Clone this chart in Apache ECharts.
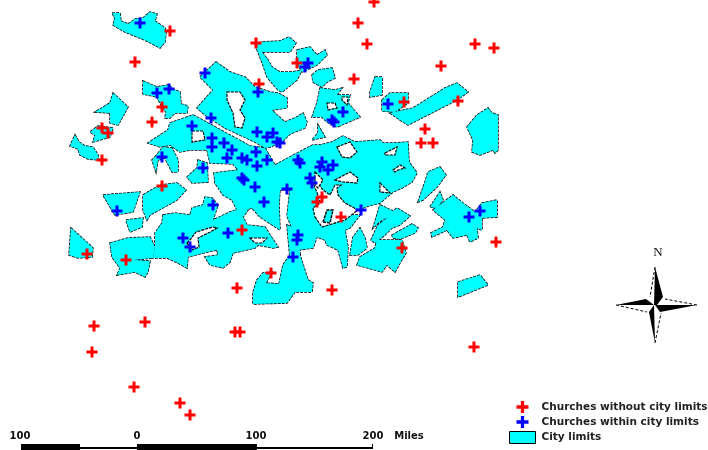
<!DOCTYPE html>
<html><head><meta charset="utf-8">
<style>html,body{margin:0;padding:0;background:#fff}#c{width:708px;height:450px;filter:blur(0.45px)}</style>
<script src="https://cdn.jsdelivr.net/npm/echarts@6/dist/echarts.min.js"></script>
</head><body><div id="c"></div>
<script>
const legendNames=['Churches without city limits','Churches within city limits','City limits'];
const churchesWithout=[[374,2],[358,23],[367,44],[475,44],[494,48],[441,66],[354,79],[404,102],[458,101],[425,129],[421,143],[433,143],[297,63],[170,31],[135,62],[256,43],[259,84],[162,107],[152,122],[102,128],[108,133],[102,160],[162,186],[87,254],[126,260],[242,230],[271,273],[237,288],[322,197],[317,202],[341,217],[402,248],[496,242],[332,290],[94,326],[145,322],[92,352],[235,332],[240,332],[474,347],[134,387],[180,403],[190,415]];
const churchesWithin=[[140,23],[205,73],[157,93],[169,89],[258,92],[211,118],[192,126],[308,63],[305,67],[388,104],[343,112],[332,120],[334,122],[212,138],[212,147],[224,143],[232,150],[227,158],[242,158],[247,160],[257,132],[256,152],[267,137],[273,133],[277,142],[280,143],[267,160],[257,166],[203,168],[242,178],[244,180],[255,187],[287,189],[264,202],[213,205],[298,160],[300,163],[322,162],[320,167],[333,165],[328,170],[310,178],[312,183],[162,157],[117,211],[183,238],[190,247],[228,233],[361,210],[298,235],[297,240],[293,257],[469,217],[480,211]];
const cityParts=[
[[112,13],[120,13],[121,21],[128,24],[135,19],[143,18],[150,12],[157,14],[155,21],[165,28],[166,33],[165,42],[160,48],[147,41],[125,32],[113,25],[115,18]],
[[143,81],[157,87],[168,85],[175,90],[180,92],[181,104],[188,106],[187,113],[175,113],[170,118],[165,118],[166,112],[162,107],[157,97],[143,94]],
[[113,93],[128,107],[122,118],[118,125],[110,123],[110,113],[95,112],[110,103]],
[[98,126],[113,128],[110,137],[93,142],[95,135],[90,132]],
[[75,135],[79,142],[85,146],[93,147],[98,155],[99,160],[88,159],[80,155],[78,149],[70,146]],
[[255,45],[262,42],[280,41],[289,37],[296,43],[290,52],[262,52],[268,60],[272,67],[280,72],[292,72],[302,70],[297,80],[282,92],[278,90],[267,77],[263,65],[258,52]],
[[216,62],[230,72],[245,77],[255,87],[270,92],[278,93],[287,98],[287,108],[272,110],[277,115],[285,122],[297,117],[303,113],[307,122],[305,128],[290,134],[282,142],[270,147],[265,148],[255,142],[225,128],[205,115],[197,108],[213,90],[200,77]],
[[193,115],[217,128],[250,146],[265,148],[275,165],[303,150],[313,145],[320,145],[332,142],[343,136],[355,142],[380,140],[383,143],[395,143],[408,142],[409,162],[417,173],[412,182],[402,188],[393,192],[380,203],[365,207],[358,210],[345,215],[360,215],[350,228],[345,230],[348,247],[347,267],[343,268],[338,250],[327,245],[325,240],[317,237],[313,248],[298,250],[293,230],[287,216],[290,190],[280,190],[279,205],[280,230],[260,217],[252,208],[238,212],[232,200],[223,195],[215,183],[214,173],[238,170],[233,164],[210,163],[207,150],[190,150],[180,152],[170,145],[160,147],[148,143],[157,137],[168,130],[170,123]],
[[155,157],[163,147],[172,148],[178,160],[178,172],[172,172],[165,158],[158,160],[156,172],[152,160]],
[[198,160],[207,163],[208,182],[192,183],[187,177],[197,168]],
[[163,215],[175,213],[190,215],[192,208],[203,205],[205,197],[212,198],[218,205],[213,220],[230,212],[245,207],[248,210],[243,217],[247,225],[265,227],[270,235],[278,247],[273,248],[258,245],[255,248],[233,253],[230,262],[223,268],[210,265],[205,257],[218,255],[217,250],[207,252],[188,257],[187,268],[178,263],[167,258],[153,258],[155,247],[155,233],[162,223]],
[[290,255],[300,255],[308,280],[313,283],[312,292],[295,292],[287,303],[253,304],[253,292],[257,280],[263,273],[272,272],[266,283],[279,284],[283,265]],
[[287,225],[300,230],[300,255],[290,258]],
[[380,205],[393,211],[397,208],[410,216],[400,225],[392,228],[385,235],[375,243],[371,240],[378,225],[388,217],[379,222],[373,228]],
[[392,235],[405,228],[412,224],[418,228],[415,233],[405,237],[400,239],[393,238]],
[[357,265],[360,257],[375,248],[377,240],[402,240],[406,253],[400,263],[395,272],[387,265],[382,272],[368,268]],
[[350,255],[353,237],[360,228],[365,238],[367,248],[358,255]],
[[418,202],[425,182],[428,172],[440,167],[446,175],[437,187],[423,200]],
[[430,207],[440,192],[443,200],[437,208]],
[[433,210],[453,195],[463,203],[475,212],[482,203],[497,200],[497,217],[482,218],[482,230],[477,228],[478,238],[470,242],[467,235],[453,238],[447,230],[432,237],[431,233],[443,227],[445,220]],
[[458,282],[480,275],[488,285],[458,297]],
[[467,127],[477,115],[488,108],[492,113],[498,115],[498,150],[495,153],[493,150],[480,155],[472,152],[473,140]],
[[297,50],[310,47],[317,55],[325,50],[327,55],[317,65],[302,72],[297,63]],
[[312,75],[318,70],[332,68],[335,78],[327,82],[322,87],[313,82]],
[[320,88],[335,90],[342,88],[337,95],[350,95],[348,103],[360,117],[337,127],[327,122],[322,117],[312,117],[317,103]],
[[375,77],[382,77],[382,95],[370,97],[370,92]],
[[382,100],[390,93],[408,93],[408,103],[395,112],[382,111]],
[[390,113],[413,108],[445,88],[457,83],[468,92],[457,100],[408,125],[400,120]],
[[318,125],[325,137],[312,140],[318,133]],
[[103,195],[140,192],[133,212],[115,215]],
[[143,195],[160,185],[177,183],[186,190],[177,200],[150,215],[147,220],[143,210]],
[[126,220],[143,218],[142,227],[130,232]],
[[71,228],[93,248],[92,257],[78,258],[69,255]],
[[110,243],[128,238],[150,237],[155,247],[153,258],[133,260],[150,261],[148,272],[145,277],[135,272],[117,275],[120,268],[112,257]]
];
const cityHoles=[
[[227,92],[240,92],[245,100],[240,110],[245,118],[242,128],[235,127],[233,113],[227,100]],
[[192,131],[203,131],[205,140],[192,142]],
[[187,243],[192,250],[199,247],[198,238],[210,232],[217,228],[213,227],[196,232],[190,240]],
[[250,238],[267,238],[262,243],[255,243]],
[[315,217],[322,227],[345,220],[358,210],[345,203],[338,195],[337,188],[341,185],[335,185],[330,195],[323,190],[317,182],[313,183],[318,195],[320,203],[313,208]],
[[337,147],[350,142],[357,152],[350,158],[342,157]],
[[335,180],[350,172],[358,178],[357,183],[343,182]],
[[380,183],[390,193],[380,192]],
[[385,153],[397,147],[395,155],[385,155]],
[[393,170],[400,165],[405,168],[398,170],[395,172]],
[[327,103],[335,103],[337,108],[328,110]],
[[342,97],[348,97],[347,105],[342,100]],
[[315,172],[323,180],[318,188],[315,185]]
];
const cityIslands=[[[323,222],[327,210],[333,210],[330,223]]];
const scaleBars=[[21,80,444,450],[80,137,447,449],[137,257,444,450],[257,373,447,449],[372,373,444,449]];
const scaleLabels=[['100',20],['0',137],['100',256],['200',373],['Miles',409]];
const scaleLabelY=436;
const compassBlack=[[[655,267],[663,297],[657,305],[654,305]],[[697,305],[660,312],[655,305]],[[655,343],[649,312],[654,305]],[[616,305],[646,299],[654,305]]];
const compassDashed=[[[655,267],[650,297]],[[697,305],[665,299]],[[655,343],[661,313]],[[616,305],[647,312]]];
const compassLetter=['N',658,253];

const plus='path://M4,0h3v4h4v3h-4v4h-3v-4h-4v-3h4z';
const polySets=[cityParts,cityParts,cityHoles,cityIslands];
function polyRender(style){return function(p,api){
  const pts=polySets[api.value(0)][p.dataIndexInside];
  return {type:'polygon',shape:{points:pts.map(q=>api.coord(q))},style:style};
}}
function dataFor(k,a){return a.map(()=>[k]);}
const outline={fill:'#00ffff',stroke:'#000',lineWidth:1.5,lineDash:[3,1]};
const chart=echarts.init(document.getElementById('c'),null,{renderer:'canvas'});
chart.setOption({
 animation:false,backgroundColor:'#fff',
 grid:{left:0,right:0,top:0,bottom:0},
 xAxis:{type:'value',min:0,max:708,show:false},
 yAxis:{type:'value',min:0,max:450,inverse:true,show:false},
 legend:{orient:'vertical',left:509,top:401,height:70,itemWidth:26,itemHeight:12,itemGap:3,selectedMode:false,padding:0,
  textStyle:{fontFamily:'DejaVu Sans',fontSize:10.5,fontWeight:'bold',color:'#222',padding:[0,0,0,1]},
  data:[{name:legendNames[0],icon:plus,itemStyle:{color:'#ff0000',opacity:1}},{name:legendNames[1],icon:plus,itemStyle:{color:'#0000ff',opacity:1}},{name:legendNames[2],icon:'rect',itemStyle:{color:'#00ffff',borderColor:'#000',borderWidth:1}}]},
 series:[
  {type:'custom',name:legendNames[2],coordinateSystem:'cartesian2d',silent:true,clip:false,itemStyle:{color:'#00ffff'},encode:{x:-1,y:-1},data:dataFor(0,cityParts),renderItem:polyRender(outline),z:1},
  {type:'custom',name:legendNames[2],coordinateSystem:'cartesian2d',silent:true,clip:false,itemStyle:{color:'#00ffff'},encode:{x:-1,y:-1},data:dataFor(1,cityParts),renderItem:polyRender({fill:'#00ffff'}),z:2},
  {type:'custom',name:'holes',coordinateSystem:'cartesian2d',silent:true,clip:false,encode:{x:-1,y:-1},data:dataFor(2,cityHoles),renderItem:polyRender({fill:'#fff',stroke:'#000',lineWidth:1.2,lineDash:[3,1]}),z:3},
  {type:'custom',name:'islands',coordinateSystem:'cartesian2d',silent:true,clip:false,encode:{x:-1,y:-1},data:dataFor(3,cityIslands),renderItem:polyRender(outline),z:4},
  {type:'scatter',name:legendNames[0],data:churchesWithout,symbol:plus,symbolSize:11,itemStyle:{color:'#ff0000',opacity:1},clip:false,silent:true,z:5},
  {type:'scatter',name:legendNames[1],data:churchesWithin,symbol:plus,symbolSize:11,itemStyle:{color:'#0000ff',opacity:1},clip:false,silent:true,z:6},
  {type:'custom',name:'scale',coordinateSystem:'cartesian2d',silent:true,clip:false,encode:{x:-1,y:-1},data:scaleBars,z:7,renderItem:function(p,api){
    const a=api.coord([api.value(0),api.value(2)]),b=api.coord([api.value(1),api.value(3)]);
    return {type:'rect',shape:{x:a[0],y:a[1],width:b[0]-a[0],height:b[1]-a[1]},style:{fill:'#000'}};
  }},
  {type:'custom',name:'scaleText',coordinateSystem:'cartesian2d',silent:true,clip:false,encode:{x:-1,y:-1},data:scaleLabels.map(l=>[l[1]]),z:7,renderItem:function(p,api){
    const a=api.coord([api.value(0),scaleLabelY]);
    return {type:'text',style:{x:a[0],y:a[1],text:scaleLabels[p.dataIndexInside][0],fontFamily:'DejaVu Sans',fontSize:10,fontWeight:'bold',fill:'#111',align:'center',verticalAlign:'middle'}};
  }},
  {type:'custom',name:'compass',coordinateSystem:'cartesian2d',silent:true,clip:false,encode:{x:-1,y:-1},data:compassBlack.map((_, i)=>[i]),z:7,renderItem:function(p,api){
    const i=p.dataIndexInside;
    return {type:'group',children:[
      {type:'polygon',shape:{points:compassBlack[i].map(q=>api.coord(q))},style:{fill:'#000'}},
      {type:'polyline',shape:{points:compassDashed[i].map(q=>api.coord(q))},style:{stroke:'#000',fill:null,lineWidth:1,lineDash:[3,2]}}
    ]};
  }},
  {type:'custom',name:'north',coordinateSystem:'cartesian2d',silent:true,clip:false,encode:{x:-1,y:-1},data:[[compassLetter[1],compassLetter[2]]],z:7,renderItem:function(p,api){
    const a=api.coord([api.value(0),api.value(1)]);
    return {type:'text',style:{x:a[0],y:a[1],text:compassLetter[0],fontFamily:'Liberation Serif',fontSize:13,fill:'#111',align:'center',verticalAlign:'middle'}};
  }}
 ]
});
</script></body></html>
